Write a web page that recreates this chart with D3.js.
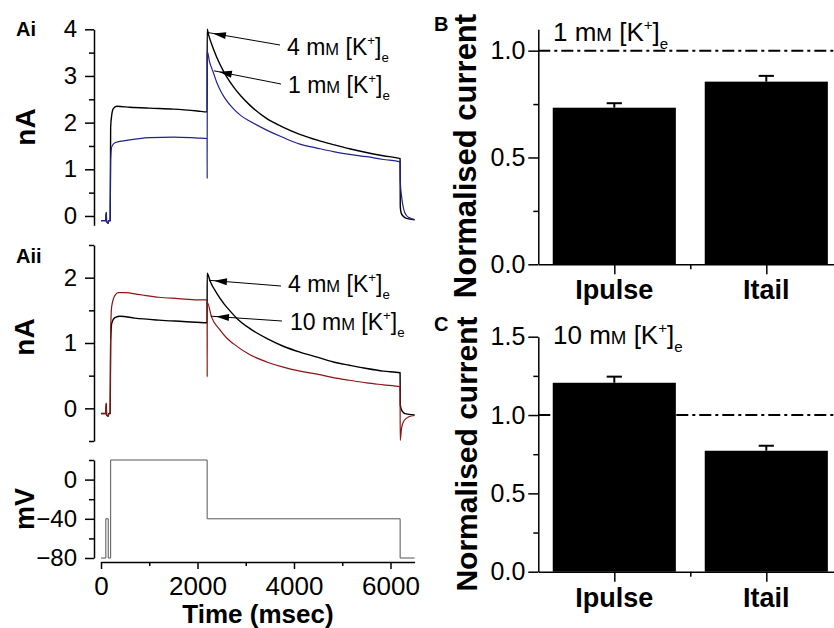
<!DOCTYPE html>
<html>
<head>
<meta charset="utf-8">
<script src="https://cdn.jsdelivr.net/npm/d3@7"></script>
<style>
  body { margin: 0; background: #fff; }
  svg { display: block; font-family: "Liberation Sans", Arial, sans-serif; }
</style>
</head>
<body>
<svg id="fig" width="834" height="628"></svg>
<script>
// ---- data: [time (ms), current (nA)] ----
const aiBlack4mM = [
  [0, -0.1], [100, -0.1], [108, 0.07], [116, -0.12], [150, -0.15], [160, -0.1], [190, -0.1],
  [200, 1.9], [222, 2.16], [255, 2.3], [325, 2.35], [600, 2.33], [1000, 2.31], [1500, 2.29], [2000, 2.25], [2199, 2.23],
  [2201, 4.0], [2230, 3.88], [2330, 3.58], [2470, 3.24], [2600, 2.99], [2750, 2.76], [2900, 2.57], [3090, 2.37],
  [3430, 2.09], [3780, 1.9], [4120, 1.75], [4500, 1.62], [4815, 1.53], [5150, 1.44], [5500, 1.36], [5850, 1.29], [6199, 1.23],
  [6203, 0.2], [6220, 0.07], [6260, 0.0], [6330, -0.05], [6500, -0.08]
];
const aiBlue1mM = [
  [0, -0.1], [100, -0.1], [108, 0.08], [116, -0.12], [150, -0.16], [160, -0.1], [190, -0.1],
  [200, 1.2], [222, 1.48], [290, 1.57], [530, 1.62], [1020, 1.68], [1500, 1.69], [2000, 1.67], [2199, 1.66],
  [2201, 0.8], [2203, 3.52], [2250, 3.3], [2327, 3.08], [2400, 2.86], [2480, 2.68], [2570, 2.52], [2742, 2.3],
  [2900, 2.15], [3088, 2.03], [3434, 1.84], [3778, 1.68], [4124, 1.54], [4500, 1.45], [4815, 1.38], [5150, 1.32],
  [5507, 1.27], [5850, 1.21], [6199, 1.16],
  [6203, 0.75], [6230, 0.42], [6270, 0.16], [6330, 0.01], [6420, -0.05], [6500, -0.08]
];
const aiiBlack4mM = [
  [0, -0.08], [100, -0.08], [108, 0.07], [116, -0.1], [150, -0.12], [160, -0.08], [190, -0.08],
  [200, 1.0], [222, 1.3], [290, 1.39], [400, 1.41], [700, 1.38], [1200, 1.35], [1700, 1.33], [2199, 1.31],
  [2201, 2.07], [2260, 1.95], [2400, 1.76], [2550, 1.6], [2700, 1.47], [2812, 1.38], [3088, 1.22], [3434, 1.07],
  [3778, 0.95], [4124, 0.86], [4500, 0.78], [4815, 0.71], [5150, 0.66], [5507, 0.61], [5850, 0.57], [6199, 0.545],
  [6203, 0.05], [6240, -0.04], [6300, -0.08], [6500, -0.1]
];
const aiiRed10mM = [
  [0, -0.08], [100, -0.08], [108, 0.08], [116, -0.1], [150, -0.12], [160, -0.08], [190, -0.08],
  [200, 1.2], [222, 1.56], [290, 1.73], [360, 1.77], [500, 1.77], [800, 1.74], [1200, 1.7], [1600, 1.68], [2000, 1.66], [2199, 1.66],
  [2201, 0.48], [2203, 1.62], [2290, 1.4], [2466, 1.2], [2600, 1.08], [2742, 0.99], [3088, 0.82], [3434, 0.71],
  [3778, 0.63], [4124, 0.57], [4500, 0.52], [4815, 0.47], [5150, 0.43], [5507, 0.39], [5850, 0.36], [6199, 0.33],
  [6202, -0.49], [6230, -0.3], [6280, -0.19], [6380, -0.13], [6500, -0.11]
];
// voltage protocol: [time (ms), mV], each level held until the next step
const voltageSteps = [[0, -80], [100, -40], [150, -80], [200, 20], [2200, -40], [6200, -80], [6500, -80]];

// ---- bar data ----
const barCategories = ['Ipulse', 'Itail'];
const norm1mM = [0.733, 0.855];
const sem1mM = [0.021, 0.027];
const norm10mM = [1.206, 0.772];
const sem10mM = [0.039, 0.032];

const timeTicks = [0, 2000, 4000, 6000];
const timeMinor = [1000, 3000, 5000];

// ---- setup ----
const svg = d3.select('#fig');
const FONT = '"Liberation Sans", Arial, sans-serif';

const xT = d3.scaleLinear().domain([0, 6500]).range([101, 414.6]);
const yAi = d3.scaleLinear().domain([-0.2, 4]).range([225.3, 29.3]);
const yAii = d3.scaleLinear().domain([-0.5, 2.5]).range([441, 245]);
const yV = d3.scaleLinear().domain([-80, 20]).range([558, 460]);

function styleAxis(g, fontSize) {
  g.selectAll('line, path').attr('stroke', '#000').attr('stroke-width', 1.5);
  g.selectAll('text').attr('font-size', fontSize).attr('font-family', FONT).attr('fill', '#000');
}

function drawYAxis(scale, x, major, minor, fmt, fontSize, pad) {
  const g = svg.append('g').attr('transform', `translate(${x},0)`);
  g.call(d3.axisLeft(scale).tickValues(major).tickSize(9).tickSizeOuter(0).tickPadding(pad).tickFormat(fmt));
  g.append('g')
    .call(d3.axisLeft(scale).tickValues(minor).tickSize(5).tickSizeOuter(0).tickFormat(''))
    .select('.domain').remove();
  styleAxis(g, fontSize);
  return g;
}

function drawTrace(data, scaleY, color, width) {
  const line = d3.line()
    .x(d => xT(d[0]))
    .y(d => scaleY(d[1]))
    .curve(d3.curveMonotoneX);
  svg.append('path')
    .attr('d', line(data))
    .attr('fill', 'none')
    .attr('stroke', color)
    .attr('stroke-width', width)
    .attr('stroke-linejoin', 'round');
}

// "4 mM [K+]e" with small-cap M, superscript + and subscript e
function concLabel(x, y, conc, size) {
  const t = svg.append('text').attr('x', x).attr('y', y).attr('font-size', size).attr('fill', '#000');
  t.append('tspan').text(conc + ' m');
  t.append('tspan').attr('font-size', size * 0.72).text('M');
  t.append('tspan').text(' [K');
  t.append('tspan').attr('font-size', size * 0.58).attr('dy', -size * 0.42).text('+');
  t.append('tspan').attr('dy', size * 0.42).text(']');
  t.append('tspan').attr('font-size', size * 0.58).attr('dy', size * 0.3).text('e');
}

function arrow(x0, y0, x1, y1) {
  svg.append('line').attr('x1', x0).attr('y1', y0).attr('x2', x1).attr('y2', y1)
    .attr('stroke', '#000').attr('stroke-width', 1);
  const a = Math.atan2(y1 - y0, x1 - x0);
  const tipX = x1 - 5 * Math.cos(a), tipY = y1 - 5 * Math.sin(a);
  const len = 13, half = 3.5;
  const bx = tipX - len * Math.cos(a), by = tipY - len * Math.sin(a);
  const px = -Math.sin(a) * half, py = Math.cos(a) * half;
  svg.append('polygon')
    .attr('points', `${tipX},${tipY} ${bx + px},${by + py} ${bx - px},${by - py}`)
    .attr('fill', '#000');
}

function rotatedLabel(x, y, text, size) {
  svg.append('text')
    .attr('transform', `translate(${x},${y}) rotate(-90)`)
    .attr('text-anchor', 'middle')
    .attr('font-size', size).attr('font-weight', 'bold').attr('fill', '#000')
    .text(text);
}

function panelLetter(x, y, text) {
  svg.append('text').attr('x', x).attr('y', y)
    .attr('font-size', 20).attr('font-weight', 'bold').attr('fill', '#000').text(text);
}

// ---- Panel Ai ----
drawYAxis(yAi, 94, [0, 1, 2, 3, 4], [0.5, 1.5, 2.5, 3.5], d3.format('d'), 24, 8);
drawTrace(aiBlack4mM, yAi, '#000', 1.4);
drawTrace(aiBlue1mM, yAi, '#22228c', 1.2);
rotatedLabel(35, 127, 'nA', 28);
panelLetter(16, 36, 'Ai');
concLabel(287, 55, '4', 23);
concLabel(288, 93, '1', 23);
arrow(280, 45, xT(2218), yAi(3.93));
arrow(281, 84, xT(2342), yAi(3.11));

// ---- Panel Aii ----
drawYAxis(yAii, 94, [0, 1, 2], [-0.5, 0.5, 1.5, 2.5], d3.format('d'), 24, 8);
drawTrace(aiiBlack4mM, yAii, '#000', 1.4);
drawTrace(aiiRed10mM, yAii, '#8c1414', 1.2);
rotatedLabel(34, 337, 'nA', 28);
panelLetter(16, 263, 'Aii');
concLabel(288, 292, '4', 23);
concLabel(290, 330, '10', 23);
arrow(281, 286, xT(2238), yAii(1.96));
arrow(282, 321, xT(2280), yAii(1.41));

// ---- Voltage protocol ----
drawYAxis(yV, 94, [-80, -40, 0], [-60, -20, 20], d3.format('d'), 24, 8);
svg.append('path')
  .attr('d', d3.line().x(d => xT(d[0])).y(d => yV(d[1])).curve(d3.curveStepAfter)(voltageSteps))
  .attr('fill', 'none').attr('stroke', '#555').attr('stroke-width', 1);
rotatedLabel(34, 509, 'mV', 27);

const gx = svg.append('g').attr('transform', 'translate(0,562)');
gx.call(d3.axisBottom(xT).tickValues(timeTicks).tickSize(7).tickSizeOuter(0).tickPadding(8).tickFormat(d3.format('d')));
gx.append('g').call(d3.axisBottom(xT).tickValues(timeMinor).tickSize(4).tickSizeOuter(0).tickFormat(''))
  .select('.domain').remove();
styleAxis(gx, 26);
svg.append('text').attr('x', 258).attr('y', 623).attr('text-anchor', 'middle')
  .attr('font-size', 26).attr('font-weight', 'bold').text('Time (msec)');

// ---- Bar panels B and C ----
function barPanel(values, errs, yMax, yTop, yBottom, major, minor, conc, titleY) {
  const x = d3.scaleLinear().domain([0.5, 2.5]).range([538.3, 842.3]);
  const y = d3.scaleLinear().domain([0, yMax]).range([yBottom, yTop]);
  const g = svg.append('g');

  // reference line at 1.0
  g.append('line')
    .attr('x1', x(0.5)).attr('x2', 834).attr('y1', y(1)).attr('y2', y(1))
    .attr('stroke', '#000').attr('stroke-width', 2).attr('stroke-dasharray', '12,4,3,4');

  const half = 0.405;
  g.selectAll('rect.bar').data(values).enter().append('rect')
    .attr('class', 'bar')
    .attr('x', (d, i) => x(i + 1 - half))
    .attr('width', x(1 + half) - x(1 - half))
    .attr('y', d => y(d))
    .attr('height', d => y(0) - y(d))
    .attr('fill', '#000');

  // upper error bars
  const cap = 0.05;
  values.forEach((v, i) => {
    g.append('line').attr('x1', x(i + 1)).attr('x2', x(i + 1))
      .attr('y1', y(v)).attr('y2', y(v + errs[i])).attr('stroke', '#000').attr('stroke-width', 2);
    g.append('line').attr('x1', x(i + 1 - cap)).attr('x2', x(i + 1 + cap))
      .attr('y1', y(v + errs[i])).attr('y2', y(v + errs[i])).attr('stroke', '#000').attr('stroke-width', 2);
  });

  const gy = svg.append('g').attr('transform', `translate(${x(0.5)},0)`);
  gy.call(d3.axisLeft(y).tickValues(major).tickSize(10).tickSizeOuter(0).tickPadding(3).tickFormat(d3.format('.1f')));
  gy.append('g').call(d3.axisLeft(y).tickValues(minor).tickSize(5).tickSizeOuter(0).tickFormat(''))
    .select('.domain').remove();
  styleAxis(gy, 25);

  const gxb = svg.append('g').attr('transform', `translate(0,${yBottom})`);
  gxb.call(d3.axisBottom(x).tickValues([1, 2]).tickSize(10).tickSizeOuter(0).tickFormat(''));
  gxb.append('g').call(d3.axisBottom(x).tickValues([1.5]).tickSize(5).tickSizeOuter(0).tickFormat(''))
    .select('.domain').remove();
  styleAxis(gxb, 25);

  barCategories.forEach((c, i) => {
    svg.append('text').attr('x', x(i + 1)).attr('y', yBottom + 35).attr('text-anchor', 'middle')
      .attr('font-size', 27).attr('font-weight', 'bold').text(c);
  });

  concLabel(553, titleY, conc, 26);
}

barPanel(norm1mM, sem1mM, 1.1, 29.3, 264.3, [0, 0.5, 1.0], [0.25, 0.75], '1', 41);
rotatedLabel(476, 156, 'Normalised current', 31);
panelLetter(434, 31, 'B');

barPanel(norm10mM, sem10mM, 1.5, 336.7, 571.7, [0, 0.5, 1.0, 1.5], [0.25, 0.75, 1.25], '10', 344);
rotatedLabel(477, 454, 'Normalised current', 30);
panelLetter(434, 331, 'C');
</script>
</body>
</html>
